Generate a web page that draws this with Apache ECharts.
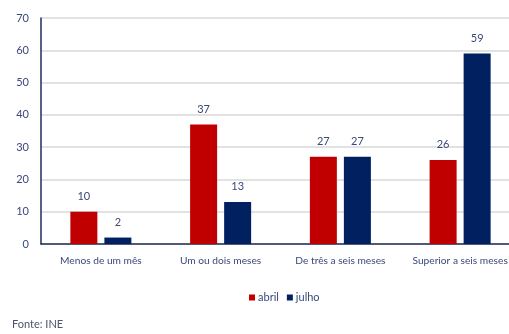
<!DOCTYPE html>
<html><head><meta charset="utf-8">
<script src="https://cdn.jsdelivr.net/npm/echarts@6/dist/echarts.min.js"></script>
<style>html,body{margin:0;padding:0;background:#fff;overflow:hidden}#c{width:509px;height:334px}</style>
</head><body><div id="c"></div>
<script>
const categories = ['Menos de um mês', 'Um ou dois meses', 'De três a seis meses', 'Superior a seis meses'];
const abril = [10, 37, 27, 26];
const julho = [2, 13, 27, 59];
const yTicks = [0, 10, 20, 30, 40, 50, 60, 70];
const seriesNames = ['abril', 'julho'];
const source = 'Fonte: INE';

const txt = '#3a4a78';
const font = 'Lato, "Open Sans", "Liberation Sans", sans-serif';
const chart = echarts.init(document.getElementById('c'), null, {renderer: 'canvas'});
chart.setOption({
  animation: false,
  textStyle: {fontFamily: font},
  grid: {left: 41, width: 479, top: 18, height: 226, containLabel: false, outerBoundsMode: 'none'},
  legend: {
    data: seriesNames, left: 244, top: 287, itemWidth: 6, itemHeight: 6, itemGap: 8,
    icon: 'rect', textStyle: {color: txt, fontSize: 11, fontFamily: font, padding: [0, 0, 0, -2]}
  },
  graphic: [{type: 'text', left: 12, top: 319, style: {text: source, fill: '#4a5570', fontSize: 11, fontFamily: font}}],
  xAxis: {
    type: 'category', data: categories,
    axisLine: {lineStyle: {color: '#1f2d5c', width: 1.5}},
    axisTick: {show: false},
    axisLabel: {color: txt, fontSize: 10.2, margin: 12, interval: 0, fontFamily: font}
  },
  yAxis: {
    type: 'value', min: yTicks[0], max: yTicks[yTicks.length - 1], interval: 10,
    axisLine: {show: true, lineStyle: {color: '#1f2d5c', width: 1.5}},
    axisTick: {show: false},
    axisLabel: {color: txt, fontSize: 11, margin: 12, fontFamily: font},
    splitLine: {lineStyle: {color: '#d9d9d9', width: 1.5}}
  },
  series: [
    {name: seriesNames[0], type: 'bar', data: abril, barWidth: 27, barGap: '26%',
     itemStyle: {color: '#c00000'},
     label: {show: true, position: 'top', distance: 10, color: txt, fontSize: 11, fontFamily: font}},
    {name: seriesNames[1], type: 'bar', data: julho, barWidth: 27,
     itemStyle: {color: '#002060'},
     label: {show: true, position: 'top', distance: 10, color: txt, fontSize: 11, fontFamily: font}}
  ]
});
</script></body></html>
